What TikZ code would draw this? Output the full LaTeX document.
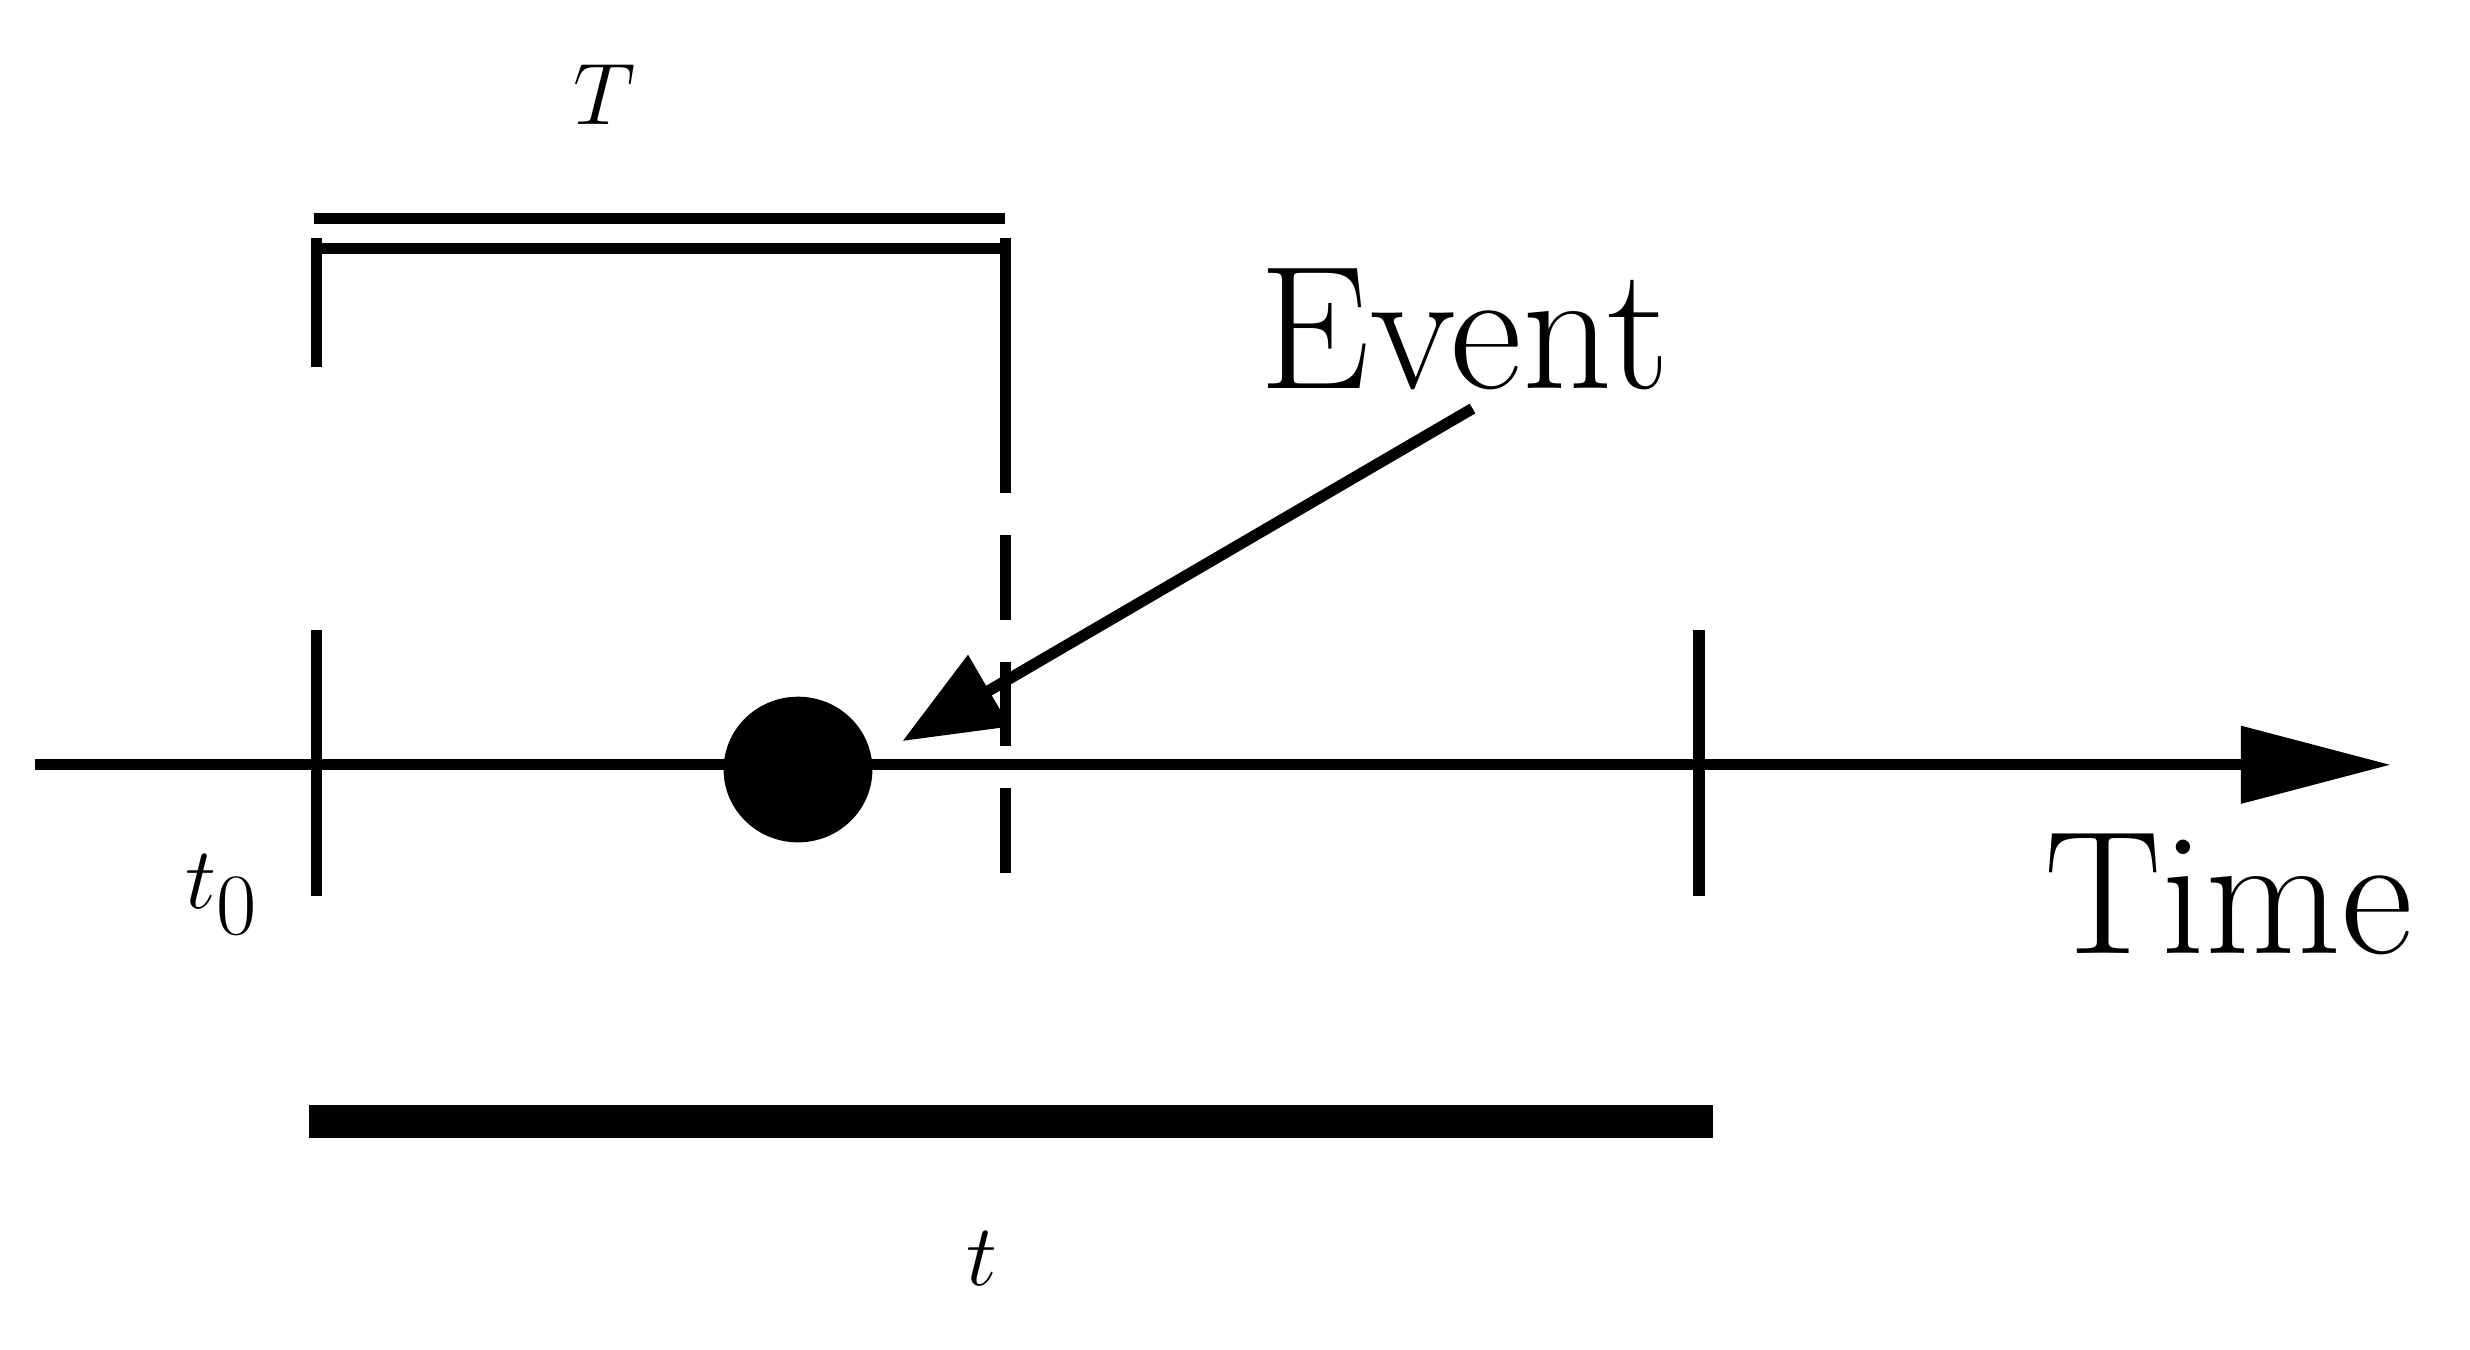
\documentclass[tikz,border=0pt]{standalone}
\usepackage{tikz}
\usetikzlibrary{arrows.meta,positioning}
\begin{document}
\begin{tikzpicture}[x=0.01583cm,y=-0.01583cm,
  line width=3.2pt,
  lbl/.style={font=\fontsize{50}{52}\selectfont},
  tick/.style={line width=3.2pt}]
  \useasboundingbox (0,0) rectangle (1560,852);
  % axis
  \coordinate (a0) at (22,483);
  \coordinate (a1) at (1510,483);
  \draw[-{Triangle[length=58pt*0.0+1.5cm,width=0.75cm]}] (a0) -- (a1);
  \node[lbl,anchor=west] (time) at (1280,565) {Time};
  % ticks
  \coordinate (s0) at (200,398); \coordinate (s1) at (200,566);
  \coordinate (e0) at (1073,398); \coordinate (e1) at (1073,566);
  \draw[tick] (s0) -- (s1);
  \draw[tick] (e0) -- (e1);
  \node[lbl] (tz) at (140,565) {$t_0$};
  % window T
  \coordinate (b0) at (200,232); \coordinate (b1) at (200,150);
  \coordinate (b2) at (635,150); \coordinate (b3) at (635,258);
  \coordinate (b4) at (635,566);
  \draw (b0) -- (b1);
  \draw (200,157) -- (635,157);
  \draw (b2) -- (b3);
  \draw[dash pattern=on 24pt off 12pt] (b3) -- (b4);
  \draw (198,138) -- (635,138);
  \node[lbl] (T) at (382,60) {$T$};
  % event
  \fill (504,486) ellipse [x radius=47, y radius=46];
  \node[lbl] (ev) at (925,208) {Event};
  \coordinate (ev0) at (930,258); \coordinate (ev1) at (570,468);
  \draw[-{Triangle[length=1cm,width=0.8cm]}] (ev0) -- (ev1);
  % duration t
  \draw[line width=0.33cm] (195,708) -- (1082,708);
  \node[lbl] (t) at (620,795) {$t$};
\end{tikzpicture}
\end{document}
